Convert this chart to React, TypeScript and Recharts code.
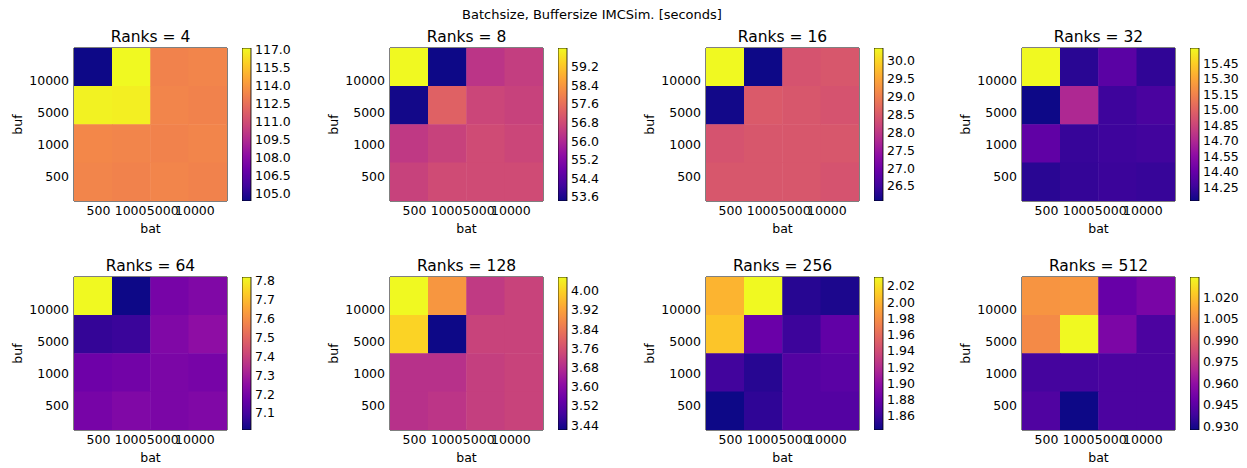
import { ScatterChart, Scatter, XAxis, YAxis, ReferenceArea, BarChart, Bar } from "recharts";

// axis categories
const BAT = ["500", "1000", "5000", "10000"];
const BUF = ["10000", "5000", "1000", "500"]; // rows, top to bottom
const TICK_POS = [0.64, 1.48, 2.32, 3.16]; // where matplotlib put the labels
const RANKS = [4, 8, 16, 32, 64, 128, 256, 512];

// runtimes [seconds], rows = buf (10000 -> 500), cols = bat (500 -> 10000)
const R4 = [
  [104.35, 117.1, 113.2, 113.3],
  [116.9, 116.8, 113.3, 113.2],
  [113.4, 113.3, 113.2, 113.3],
  [113.3, 113.2, 113.3, 113.2],
];
const R8 = [
  [60.0, 53.43, 56.3, 56.5],
  [53.5, 57.3, 56.7, 56.6],
  [56.4, 56.6, 56.8, 56.7],
  [56.6, 56.8, 56.8, 56.8],
];
const R16 = [
  [30.36, 26.08, 28.4, 28.45],
  [26.12, 28.5, 28.45, 28.4],
  [28.4, 28.45, 28.45, 28.45],
  [28.45, 28.45, 28.45, 28.4],
];
const R32 = [
  [15.6, 14.2, 14.36, 14.22],
  [14.12, 14.7, 14.26, 14.3],
  [14.38, 14.24, 14.26, 14.27],
  [14.2, 14.23, 14.25, 14.24],
];
const R64 = [
  [7.82, 7.01, 7.2, 7.22],
  [7.07, 7.08, 7.22, 7.25],
  [7.18, 7.19, 7.21, 7.2],
  [7.2, 7.22, 7.21, 7.22],
];
const R128 = [
  [4.057, 3.9, 3.71, 3.73],
  [4.0, 3.42, 3.73, 3.73],
  [3.69, 3.69, 3.72, 3.73],
  [3.69, 3.7, 3.72, 3.73],
];
const R256 = [
  [2.0, 2.031, 1.852, 1.848],
  [2.008, 1.88, 1.86, 1.876],
  [1.862, 1.852, 1.87, 1.873],
  [1.8425, 1.855, 1.87, 1.87],
];
const R512 = [
  [1.007, 1.008, 0.948, 0.953],
  [1.004, 1.034, 0.954, 0.941],
  [0.939, 0.939, 0.941, 0.941],
  [0.942, 0.9274, 0.941, 0.941],
];
const GRIDS = [R4, R8, R16, R32, R64, R128, R256, R512];

// colorbar ticks
const CB4 = [105.0, 106.5, 108.0, 109.5, 111.0, 112.5, 114.0, 115.5, 117.0];
const CB8 = [53.6, 54.4, 55.2, 56.0, 56.8, 57.6, 58.4, 59.2];
const CB16 = [26.5, 27.0, 27.5, 28.0, 28.5, 29.0, 29.5, 30.0];
const CB32 = [14.25, 14.4, 14.55, 14.7, 14.85, 15.0, 15.15, 15.3, 15.45];
const CB64 = [7.1, 7.2, 7.3, 7.4, 7.5, 7.6, 7.7, 7.8];
const CB128 = [3.44, 3.52, 3.6, 3.68, 3.76, 3.84, 3.92, 4.0];
const CB256 = [1.86, 1.88, 1.9, 1.92, 1.94, 1.96, 1.98, 2.0, 2.02];
const CB512 = [0.93, 0.945, 0.96, 0.975, 0.99, 1.005, 1.02];
const CB_TICKS = [CB4, CB8, CB16, CB32, CB64, CB128, CB256, CB512];
const CB_DIGITS = [1, 1, 1, 2, 1, 2, 2, 3];

const PLASMA = ["#0d0887", "#41049d", "#6a00a8", "#8f0da4", "#b12a90", "#cc4778", "#e16462", "#f2844b", "#fca636", "#fcce25", "#f0f921"];

function plasma(t: number) {
  const x = Math.max(0, Math.min(1, t)) * (PLASMA.length - 1);
  const i = Math.min(Math.floor(x), PLASMA.length - 2);
  const f = x - i;
  const a = PLASMA[i], b = PLASMA[i + 1];
  const ch = (h: string, k: number) => parseInt(h.slice(1 + 2 * k, 3 + 2 * k), 16);
  const c = [0, 1, 2].map((k) => Math.round(ch(a, k) + (ch(b, k) - ch(a, k)) * f));
  return `rgb(${c[0]},${c[1]},${c[2]})`;
}

const FONT = "DejaVu Sans";
const PLOT = 153;
const CELL = PLOT / 4;
const COL_X = [74, 390, 706, 1022];
const ROW_Y = [48, 277];
const TITLE_Y = [37, 266];
const CB_PAD = 9;

function Panel({ idx }: { idx: number }) {
  const grid = GRIDS[idx];
  const flat = grid.flat();
  const vmin = Math.min(...flat);
  const vmax = Math.max(...flat);
  const data = grid.flatMap((row, r) => row.map((v, c) => ({ x: c + 0.5, y: 3.5 - r, v })));
  const px = COL_X[idx % 4];
  const py = ROW_Y[Math.floor(idx / 4)];
  const tick = { fill: "#000", fontSize: 12.5, fontFamily: FONT };
  const gid = `cb${idx}`;
  return (
    <>
      <div style={{ position: "absolute", left: px + PLOT / 2 - 100, top: TITLE_Y[Math.floor(idx / 4)] - 10, width: 200, height: 20, lineHeight: "20px", textAlign: "center", fontSize: 15.5, fontFamily: FONT, color: "#000" }}>
        Ranks = {RANKS[idx]}
      </div>
      <div style={{ position: "absolute", left: px - 74, top: py - 10 }}>
        <ScatterChart width={74 + PLOT + 5} height={10 + PLOT + 45} margin={{ top: 10, right: 5, bottom: 0, left: 0 }}>
          <XAxis type="number" dataKey="x" domain={[0, 4]} ticks={TICK_POS} interval={0} allowDataOverflow
            tickFormatter={(v) => BAT[TICK_POS.indexOf(v)]} tick={tick} tickLine={false} axisLine={false} tickSize={0} tickMargin={5} height={45}
            label={{ value: "bat", position: "insideBottom", offset: 13, fill: "#000", fontSize: 12.5, fontFamily: FONT }} />
          <YAxis type="number" dataKey="y" domain={[0, 4]} ticks={TICK_POS} interval={0} allowDataOverflow
            tickFormatter={(v) => BUF[3 - TICK_POS.indexOf(v)]} tick={tick} tickLine={false} axisLine={false} tickSize={0} tickMargin={5} width={74}
            label={{ value: "buf", angle: -90, position: "insideLeft", offset: 18, fill: "#000", fontSize: 12.5, fontFamily: FONT, style: { textAnchor: "middle" } }} />
          <Scatter data={data} isAnimationActive={false}
            shape={(p: any) => (
              <rect x={p.cx - CELL / 2 - 0.25} y={p.cy - CELL / 2 - 0.25} width={CELL + 0.5} height={CELL + 0.5}
                fill={plasma((p.payload.v - vmin) / (vmax - vmin))} />
            )} />
          <ReferenceArea x1={0} x2={4} y1={0} y2={4} fill="none" fillOpacity={0} stroke="#000" strokeWidth={1} ifOverflow="visible" />
        </ScatterChart>
      </div>
      <div style={{ position: "absolute", left: px + 168, top: py - CB_PAD }}>
        <BarChart width={70} height={PLOT + 2 * CB_PAD} data={[{ name: "cb", range: [vmin, vmax] }]} margin={{ top: CB_PAD, right: 0, bottom: CB_PAD, left: 0 }} barCategoryGap={0}>
          <defs>
            <linearGradient id={gid} x1="0" y1="1" x2="0" y2="0">
              {PLASMA.map((c, i) => <stop key={i} offset={i / (PLASMA.length - 1)} stopColor={c} />)}
            </linearGradient>
          </defs>
          <XAxis dataKey="name" hide />
          <YAxis orientation="right" type="number" domain={[vmin, vmax]} ticks={CB_TICKS[idx]} interval={0} allowDataOverflow
            tickFormatter={(v) => Number(v).toFixed(CB_DIGITS[idx])} tick={tick} tickLine={false} axisLine={false} tickSize={0} tickMargin={4} width={61} />
          <Bar dataKey="range" fill={`url(#${gid})`} stroke="#000" strokeWidth={0.8} isAnimationActive={false} />
        </BarChart>
      </div>
    </>
  );
}

export default function App() {
  return (
    <div style={{ position: "absolute", left: 0, top: 0, width: 1247, height: 468, background: "#fff", overflow: "hidden" }}>
      <div style={{ position: "absolute", left: 392, top: 5, width: 400, height: 20, lineHeight: "20px", textAlign: "center", fontSize: 13, fontFamily: FONT, color: "#000" }}>
        Batchsize, Buffersize IMCSim. [seconds]
      </div>
      {RANKS.map((_, i) => <Panel key={i} idx={i} />)}
    </div>
  );
}
